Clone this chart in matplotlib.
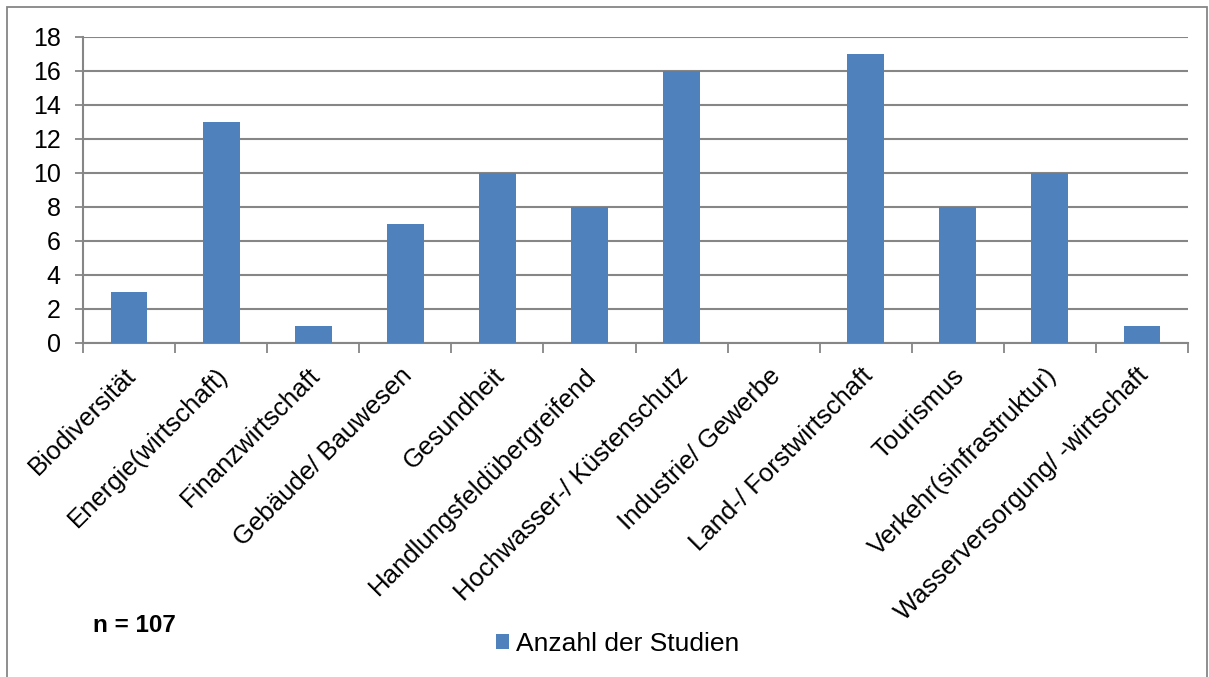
import numpy as np
import matplotlib.pyplot as plt
from matplotlib.patches import Rectangle, Patch

categories = [
    "Biodiversität",
    "Energie(wirtschaft)",
    "Finanzwirtschaft",
    "Gebäude/ Bauwesen",
    "Gesundheit",
    "Handlungsfeldübergreifend",
    "Hochwasser-/ Küstenschutz",
    "Industrie/ Gewerbe",
    "Land-/ Forstwirtschaft",
    "Tourismus",
    "Verkehr(sinfrastruktur)",
    "Wasserversorgung/ -wirtschaft",
]
studies = [3, 13, 1, 7, 10, 8, 16, 0, 17, 8, 10, 1]
series_name = "Anzahl der Studien"
sample_note = "n = 107"
y_ticks = [0, 2, 4, 6, 8, 10, 12, 14, 16, 18]

bar_color = "#4F81BD"
grid_color = "#868686"

plt.rcParams["font.family"] = ["Liberation Sans", "DejaVu Sans"]

W, H = 1209, 677
fig = plt.figure(figsize=(W / 100, H / 100), dpi=100)
ax = fig.add_axes([83 / W, 1 - 343 / H, (1188 - 83) / W, (343 - 37) / H])

x = np.arange(len(categories))
ax.bar(x, studies, width=0.4, color=bar_color, zorder=3)

ax.set_xlim(-0.5, len(categories) - 0.5)
ax.set_ylim(0, 18)
ax.set_yticks(y_ticks)
ax.tick_params(axis="y", labelsize=18, length=6, width=1.3, color=grid_color, pad=10)
ax.yaxis.grid(True, color=grid_color, linewidth=1.5, zorder=0)

# category boundary ticks below the axis, labels sit at the bar centres
ax.set_xticks(np.arange(len(categories) + 1) - 0.5)
ax.set_xticklabels([])
ax.tick_params(axis="x", length=7, width=1.3, color=grid_color)
for xi, name in zip(x, categories):
    ax.annotate(name, xy=(xi, 0), xycoords=("data", "axes fraction"),
                xytext=(3, -29), textcoords="offset pixels",
                rotation=45, rotation_mode="anchor", ha="right", va="center",
                fontsize=18.5)

for side in ["top", "right"]:
    ax.spines[side].set_visible(False)
ax.spines["left"].set_color(grid_color)
ax.spines["left"].set_linewidth(1.5)
ax.spines["bottom"].set_color(grid_color)
ax.spines["bottom"].set_linewidth(1.5)

fig.text(93 / W, 1 - 626 / H, sample_note, fontsize=17.5, fontweight="bold",
         va="center", ha="left")

handle = Patch(facecolor=bar_color, edgecolor="none")
fig.legend([handle], [series_name], loc="center left",
           bbox_to_anchor=(496 / W, 1 - 644 / H), frameon=False, fontsize=19,
           handlelength=0.5, handleheight=0.5, handletextpad=0.25,
           borderpad=0, borderaxespad=0)

# chart frame
fig.patches.append(Rectangle((7 / W, -0.05), (1207 - 7) / W, 1.05 - 7 / H,
                             transform=fig.transFigure, fill=False,
                             edgecolor=grid_color, linewidth=1.3))

fig.savefig("out.png", dpi=100)
